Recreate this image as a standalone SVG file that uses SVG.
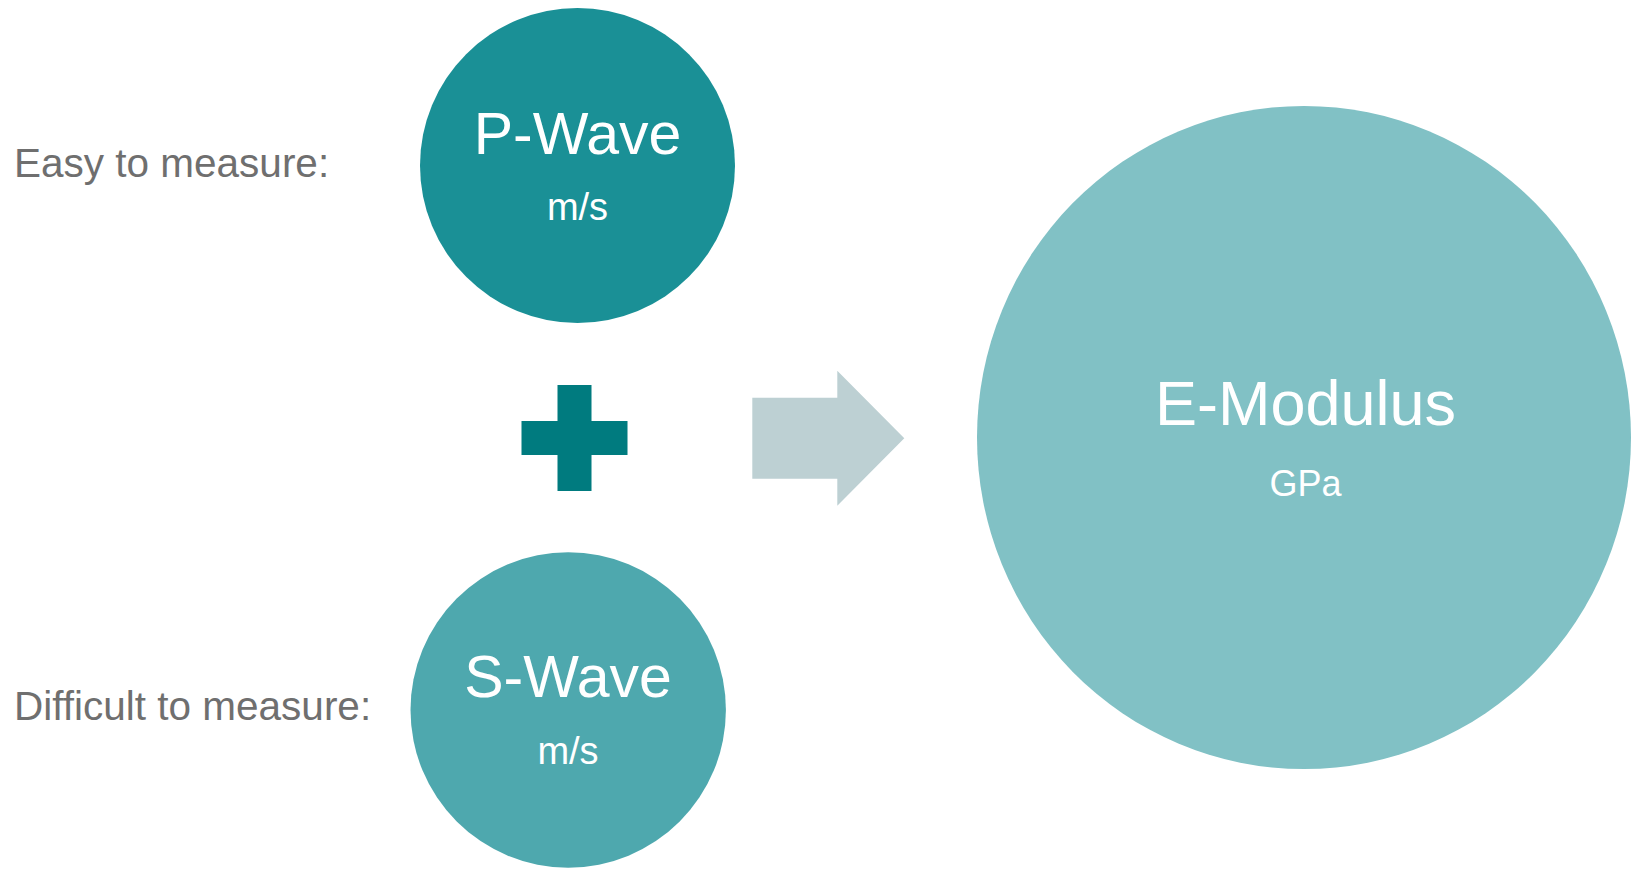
<svg xmlns="http://www.w3.org/2000/svg" width="1636" height="869" viewBox="0 0 1636 869">
  <style>
    .lbl { font-family: "Liberation Sans", Arial, sans-serif; fill: #6f6f6f; font-size: 40.5px; }
    .title { font-family: "Liberation Sans", Arial, sans-serif; fill: #ffffff; text-anchor: middle; }
    .big { font-size: 59px; }
    .unit { font-size: 38px; }
    .p { fill: #1a9096; }
    .s { fill: #4ea8ae; }
    .e { fill: #81c1c5; }
  </style>
  <rect width="1636" height="869" fill="#ffffff"/>

  <g id="label-easy">
    <text class="lbl" x="14" y="177">Easy to measure:</text>
  </g>
  <g id="label-difficult">
    <text class="lbl" x="14" y="720">Difficult to measure:</text>
  </g>

  <g id="p-wave">
    <circle class="p" cx="577.5" cy="165.5" r="157.5"/>
    <text class="title big" x="577.5" y="154">P-Wave</text>
    <text class="title unit" x="577.5" y="220">m/s</text>
  </g>

  <g id="s-wave">
    <circle class="s" cx="568.2" cy="710" r="157.7"/>
    <text class="title big" x="568" y="697">S-Wave</text>
    <text class="title unit" x="568" y="764">m/s</text>
  </g>

  <g id="plus">
    <rect x="557.5" y="385" width="34" height="106" fill="#007b7f"/>
    <rect x="521.5" y="421" width="106" height="34" fill="#007b7f"/>
  </g>

  <g id="e-modulus">
    <ellipse class="e" cx="1304" cy="437.5" rx="327" ry="331.5"/>
    <text class="title" x="1305.5" y="425" font-size="63">E-Modulus</text>
    <text class="title" x="1305.5" y="496" font-size="36">GPa</text>
  </g>

  <g id="connectors">
    <polygon points="752.3,397.7 837.3,397.7 837.3,370.7 904.3,438.3 837.3,505.7 837.3,478.7 752.3,478.7" fill="#bdd0d3"/>
  </g>
</svg>
